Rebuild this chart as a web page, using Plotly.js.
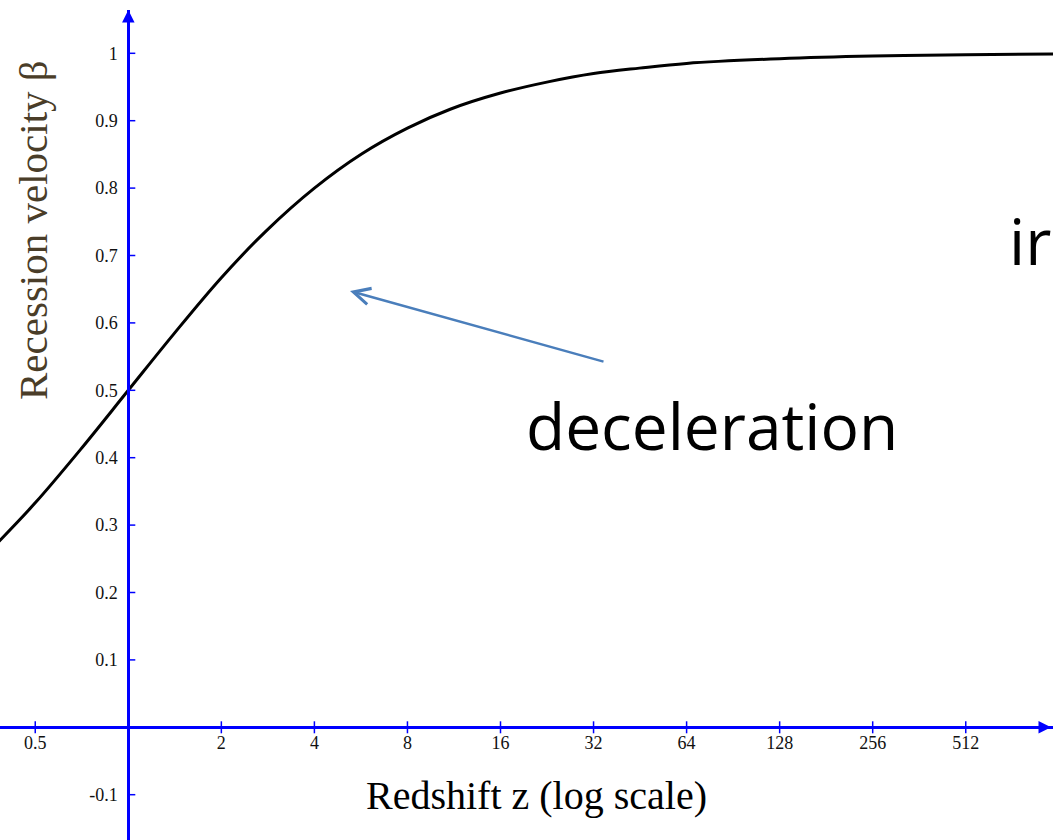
<!DOCTYPE html>
<html>
<head>
<meta charset="utf-8">
<script src="https://cdn.plot.ly/plotly-3.0.1.min.js"></script>
<style>html,body{margin:0;padding:0;background:#fff;}#chart{width:1053px;height:840px;}</style>
</head>
<body>
<div id="chart"></div>
<script>
// Redshift z (log scale) and recession velocity beta
const redshiftZ = [0.38, 0.5, 0.7, 1, 1.4, 2, 2.8, 4, 5.7, 8, 11, 16, 23, 32, 45, 64, 128, 256, 512, 1000];
const betaValues = [0.275, 0.333, 0.412, 0.5, 0.583, 0.667, 0.737, 0.8, 0.851, 0.889, 0.917, 0.941, 0.958, 0.970, 0.978, 0.985, 0.992, 0.996, 0.998, 0.999];

const xTickVals = [0.5, 2, 4, 8, 16, 32, 64, 128, 256, 512];
const xTickText = ["0.5", "2", "4", "8", "16", "32", "64", "128", "256", "512"];
const yTickVals = [-0.1, 0.1, 0.2, 0.3, 0.4, 0.5, 0.6, 0.7, 0.8, 0.9, 1];
const yTickText = ["-0.1", "0.1", "0.2", "0.3", "0.4", "0.5", "0.6", "0.7", "0.8", "0.9", "1"];

const W = 1053, H = 840;
const originPx = 128.3, pxPerDecade = 93.05 / Math.log10(2);
const xRange = [-originPx / pxPerDecade, (W - originPx) / pxPerDecade];
const y0Px = 727.3, pxPerUnit = 674, topPx = 10;
const yRange = [-(H - y0Px) / pxPerUnit, (y0Px - topPx) / pxPerUnit];
const xAxisPos = (H - y0Px) / H;
const yAxisPos = originPx / W;
const axisBlue = '#0000ff';
const serif = '"Liberation Serif", "Times New Roman", serif';
const sans = '"Open Sans", "Noto Sans", sans-serif';

// tick marks crossing the axis lines (built from the tick arrays)
const shapes = [];
xTickVals.forEach(v => shapes.push({type: 'line', xref: 'x', yref: 'y', x0: v, x1: v,
  ysizemode: 'pixel', yanchor: 0, y0: -6, y1: 6, line: {color: axisBlue, width: 1.5}}));
yTickVals.forEach(v => shapes.push({type: 'line', xref: 'x', yref: 'y', y0: v, y1: v,
  xsizemode: 'pixel', xanchor: 1, x0: -7, x1: 7, line: {color: axisBlue, width: 1.5}}));

const data = [{
  x: redshiftZ, y: betaValues, type: 'scatter', mode: 'lines',
  line: {color: '#000000', width: 3, shape: 'spline', smoothing: 1},
  hoverinfo: 'skip', showlegend: false
}];

const layout = {
  width: W, height: H,
  margin: {l: 0, r: 0, t: 0, b: 0, pad: 0},
  paper_bgcolor: '#ffffff', plot_bgcolor: '#ffffff',
  showlegend: false,
  xaxis: {
    type: 'log', range: xRange, anchor: 'free', position: xAxisPos,
    showgrid: false, zeroline: false, showline: true, linecolor: axisBlue, linewidth: 2.5,
    tickmode: 'array', tickvals: xTickVals, ticktext: xTickText,
    ticks: '', ticklabelstandoff: -1, tickfont: {family: serif, size: 18, color: '#111'},
    fixedrange: true
  },
  yaxis: {
    range: yRange, domain: [0, (H - topPx) / H], anchor: 'free', position: yAxisPos,
    showgrid: false, zeroline: false, showline: true, linecolor: axisBlue, linewidth: 2.5,
    tickmode: 'array', tickvals: yTickVals, ticktext: yTickText,
    ticks: '', ticklabelstandoff: 6,
    tickfont: {family: serif, size: 18, color: '#111'},
    fixedrange: true
  },
  shapes: shapes,
  annotations: [
    {xref: 'paper', yref: 'paper', x: yAxisPos, y: 1 - topPx / H, ax: 0, ay: 16, text: '',
     showarrow: true, arrowhead: 2, arrowsize: 1, arrowwidth: 2.5, arrowcolor: axisBlue},
    {xref: 'paper', yref: 'paper', x: 1051 / W, y: xAxisPos, ax: -16, ay: 0, text: '',
     showarrow: true, arrowhead: 2, arrowsize: 1, arrowwidth: 2.5, arrowcolor: axisBlue},
    {xref: 'paper', yref: 'paper', x: 33 / W, y: 1 - 230 / H, text: 'Recession velocity β', textangle: -90,
     showarrow: false, font: {family: serif, size: 41, color: '#4a3d28'}, xanchor: 'center', yanchor: 'middle'},
    {xref: 'paper', yref: 'paper', x: 536 / W, y: 1 - 795 / H, text: 'Redshift z (log scale)',
     showarrow: false, font: {family: serif, size: 40, color: '#000'}, xanchor: 'center', yanchor: 'middle'},
    {xref: 'paper', yref: 'paper', x: 350 / W, y: 1 - 291 / H, ax: 255, ay: 71, text: '',
     showarrow: true, arrowhead: 5, arrowsize: 1.3, arrowwidth: 2.5, arrowcolor: '#4a7ebb', standoff: 0},
    {xref: 'paper', yref: 'paper', x: 712 / W, y: 1 - 425 / H, text: 'deceleration', showarrow: false,
     font: {family: sans, size: 64, color: '#000'}, xanchor: 'center', yanchor: 'middle'},
    {xref: 'paper', yref: 'paper', x: 1007 / W, y: 1 - 240 / H, text: 'ir', showarrow: false,
     font: {family: sans, size: 64, color: '#000'}, xanchor: 'left', yanchor: 'middle'}
  ]
};

Plotly.newPlot('chart', data, layout, {displayModeBar: false, staticPlot: true});
</script>
</body>
</html>
